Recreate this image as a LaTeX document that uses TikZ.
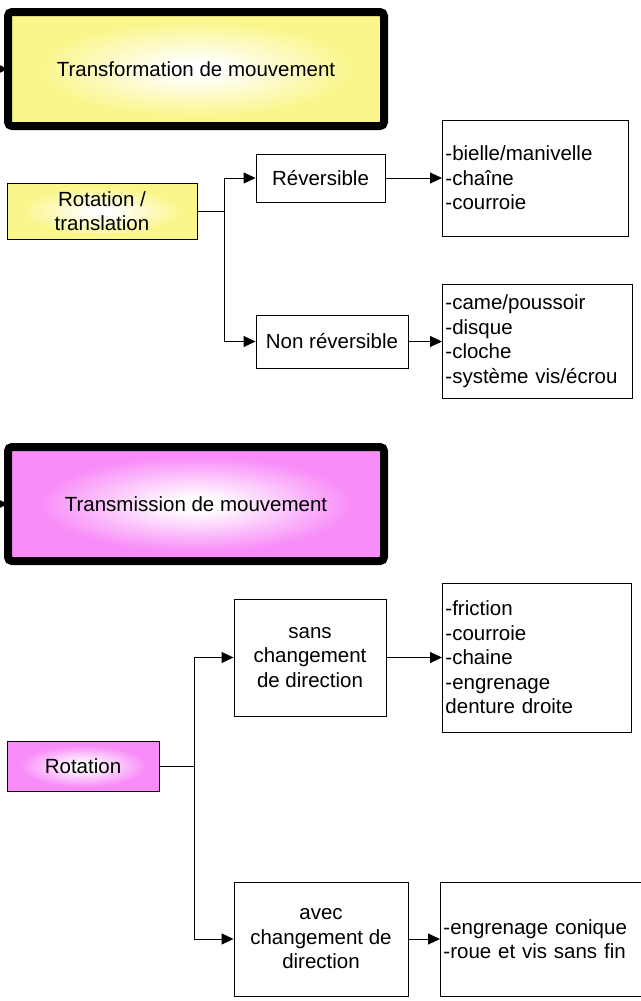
\documentclass[tikz,border=0pt]{standalone}
\usepackage{fontspec}
\setmainfont{Liberation Sans}
\usetikzlibrary{arrows.meta,shadings}
\definecolor{ty}{RGB}{250,246,140}
\definecolor{tp}{RGB}{248,140,248}
\pgfdeclareradialshading{yglow}{\pgfpoint{0bp}{0bp}}{color(0bp)=(white); color(3bp)=(white); color(21bp)=(ty); color(50bp)=(ty)}
\pgfdeclareradialshading{pglow}{\pgfpoint{0bp}{0bp}}{color(0bp)=(white); color(3bp)=(white); color(21bp)=(tp); color(50bp)=(tp)}
\begin{document}
\begin{tikzpicture}[x=1pt,y=-1pt,
  every node/.style={font=\fontsize{20.5}{24.5}\selectfont},
  title/.style={draw, line width=8pt, rounded corners=4pt, outer sep=0pt,
    minimum width=376pt, minimum height=114pt, inner sep=0pt},
  box/.style={draw, line width=0.9pt, fill=white, align=center, inner sep=0pt},
  listbox/.style={draw, line width=0.9pt, fill=white, align=left,
    inner xsep=3pt, inner ysep=0pt, anchor=west},
  conn/.style={line width=0.9pt},
  arr/.style={conn, -{Triangle[length=12pt,width=11pt]}}
]
\useasboundingbox (0,0) rectangle (640,1001);

% ---------- top part ----------
\coordinate (a1) at (-20,69);
\draw[arr] (a1) -- (196-188,69);
\node[title, shade, shading=yglow] (t1) at (196,69) {Transformation de mouvement};

\node[box, shade, shading=yglow, minimum width=190pt, minimum height=56pt] (r1) at (102,211) {Rotation /\\translation};
\node[box, minimum width=129pt, minimum height=48pt] (rev) at (320.5,178) {Réversible};
\node[box, minimum width=152pt, minimum height=53pt] (nrev) at (332,341.5) {Non réversible};
\node[listbox, text width=180pt, minimum height=116pt] (L1) at (442,178) {-bielle/manivelle\\-chaîne\\-courroie};
\node[listbox, text width=184pt, minimum height=114pt] (L2) at (442,341) {-came/poussoir\\-disque\\-cloche\\-système vis/écrou};

\coordinate (j1) at (224,211);
\draw[conn] (r1.east) -- (j1);
\draw[arr] (j1) |- (rev.west);
\draw[arr] (j1) |- (nrev.west);
\draw[arr] (rev.east) -- (L1.west);
\draw[arr] (nrev.east) -- (nrev.east -| L2.west);

% ---------- bottom part ----------
\coordinate (a2) at (-20,504);
\draw[arr] (a2) -- (196-188,504);
\node[title, shade, shading=pglow] (t2) at (196,504) {Transmission de mouvement};

\node[box, shade, shading=pglow, minimum width=152pt, minimum height=50pt] (r2) at (83,766) {Rotation};
\node[box, minimum width=152pt, minimum height=117pt] (sans) at (310,657.5) {sans\\changement\\de direction};
\node[listbox, text width=183pt, minimum height=149pt] (L3) at (442,657.5) {-friction\\-courroie\\-chaine\\-engrenage\\denture droite};
\node[box, minimum width=174pt, minimum height=114pt] (avec) at (321,939) {avec\\changement de\\direction};
\node[listbox, text width=199pt, minimum height=114pt] (L4) at (440,939) {-engrenage conique\\-roue et vis sans fin};

\coordinate (j2) at (194,766);
\draw[conn] (r2.east) -- (j2);
\draw[arr] (j2) |- (sans.west);
\draw[arr] (j2) |- (avec.west);
\draw[arr] (sans.east) -- (L3.west);
\draw[arr] (avec.east) -- (L4.west);
\end{tikzpicture}
\end{document}
